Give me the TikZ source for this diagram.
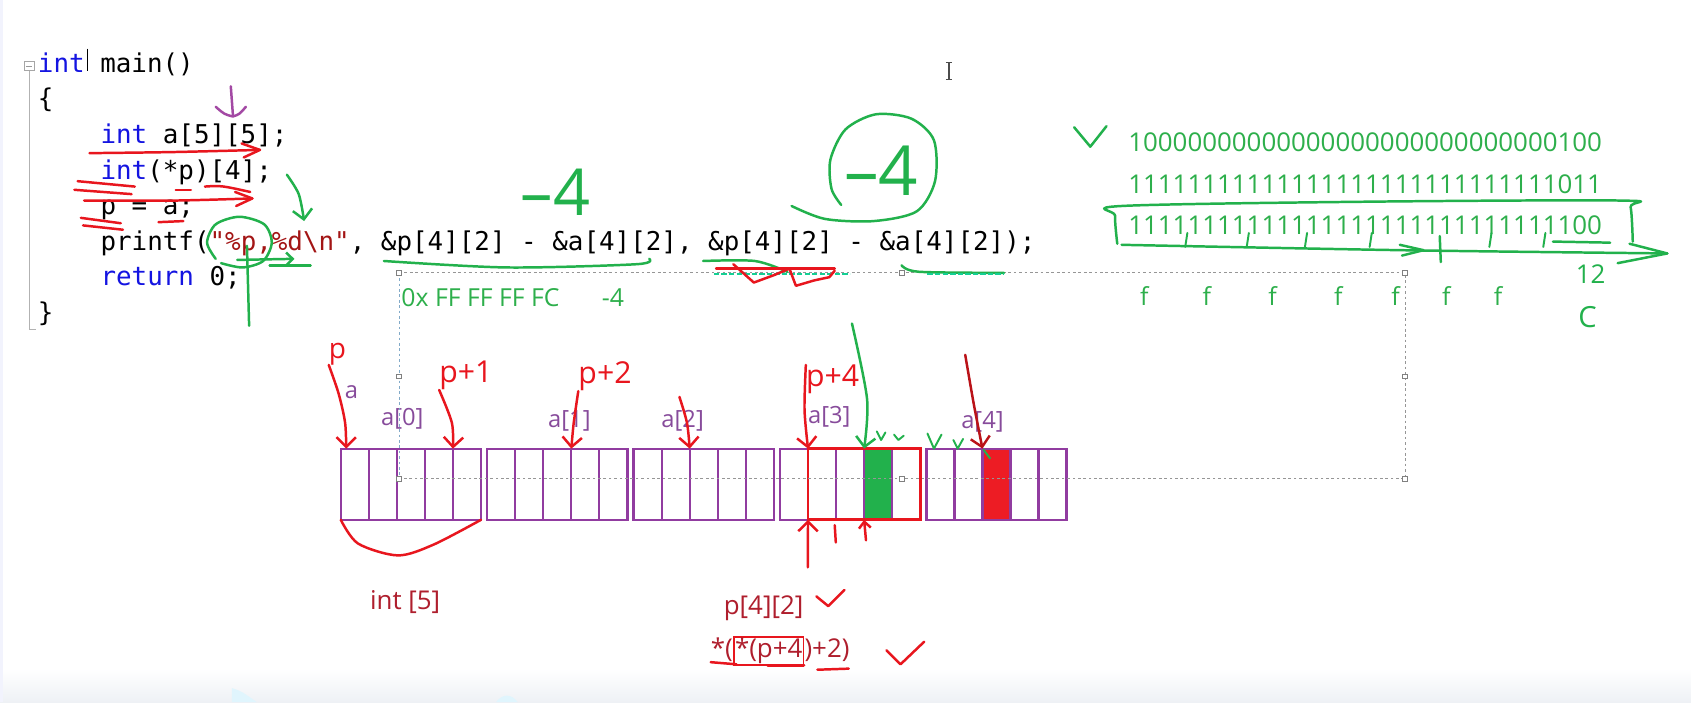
\documentclass[tikz,border=0pt]{standalone}
\usepackage{fontspec}
\setmonofont{DejaVu Sans Mono}
\newfontfamily\notefont{Open Sans}
\usetikzlibrary{positioning, arrows.meta}

\definecolor{kwblue}{RGB}{20,20,225}
\definecolor{strred}{RGB}{163,21,21}
\definecolor{penred}{RGB}{232,22,30}
\definecolor{pengreen}{RGB}{34,177,76}
\definecolor{penpurple}{RGB}{163,73,164}
\definecolor{mempurple}{RGB}{145,60,160}
\definecolor{labpurple}{RGB}{135,75,155}
\definecolor{notegreen}{RGB}{45,175,75}
\definecolor{notered}{RGB}{175,30,45}
\definecolor{selgray}{RGB}{150,150,150}
\definecolor{selblue}{RGB}{130,170,200}
\definecolor{bandgray}{RGB}{238,241,245}
\definecolor{cellred}{RGB}{237,28,36}

\newcommand{\kwd}[1]{\textcolor{kwblue}{#1}}

\tikzset{
  code/.style={font=\ttfamily\fontsize{24}{28}\selectfont, anchor=base west, inner sep=0pt},
  note/.style={font=\notefont\fontsize{23}{26}\selectfont, text=notegreen, anchor=base, inner sep=0pt},
  bits/.style={font=\notefont\fontsize{24}{28}\selectfont, text=notegreen, anchor=west, inner sep=0pt},
  memlabel/.style={font=\notefont\fontsize{22}{26}\selectfont, text=labpurple, inner sep=0pt},
  redtext/.style={font=\notefont\fontsize{24}{28}\selectfont, text=notered, inner sep=0pt, anchor=base west},
  hand/.style={font=\notefont\fontsize{28}{30}\selectfont, inner sep=0pt},
  cell/.style={draw=mempurple, line width=2.1pt, minimum width=26pt, minimum height=66pt, inner sep=0pt, outer sep=0pt},
  handle/.style={draw=gray, fill=white, line width=0.6pt, minimum size=4.5pt, inner sep=0pt},
  sel/.style={draw=selgray, line width=0.9pt, dash pattern=on 2.5pt off 2.5pt},
  pen/.style={line width=2.3pt, line cap=round, line join=round},
  redpen/.style={pen, draw=penred},
  greenpen/.style={pen, draw=pengreen},
  purplepen/.style={pen, draw=penpurple},
  tealdash/.style={draw=pengreen!60!cyan, line width=2pt, dash pattern=on 5pt off 2pt},
  barb/.style={-{Straight Barb[length=9pt,width=18pt]}},
}

\begin{document}
\begin{tikzpicture}[x=1pt, y=-1pt]
\useasboundingbox (0,0) rectangle (1568,651);
\fill[white] (0,0) rectangle (1568,651);
\shade[top color=white, bottom color=bandgray] (0,620) rectangle (1568,651);
\fill[bandgray!80!blue!20] (0,0) rectangle (3,651);
\fill[cyan!12] (215,651) -- (215,638) .. controls (224,641) .. (238,651) -- cycle;
\fill[cyan!12] (460,651) .. controls (466,643) and (474,643) .. (480,651) -- cycle;

% editor
\node[draw=gray!70, minimum size=9pt, inner sep=0pt] (fold) at (27,61) {};
\draw[gray!80] (24,61) -- (30,61);
\draw[gray!60, line width=0.8pt] (fold.south) -- (27,305) -- (33,305);
\node[code] (ln0) at (35,67) {\kwd{int} main()};
\node[code] (ln1) at (35,100) {\{};
\node[code] (ln2) at (93,133) {\kwd{int} a[5][5];};
\node[code] (ln3) at (93,166) {\kwd{int}(*p)[4];};
\node[code] (ln4) at (93,199) {p = a;};
\node[code] (ln5) at (93,232) {printf(\textcolor{strred}{"\%p,\%d\textbackslash n"}, \&p[4][2] - \&a[4][2], \&p[4][2] - \&a[4][2]);};
\node[code] (ln6) at (93,265) {\kwd{return} 0;};
\node[code] (ln7) at (35,298) {\}};
\draw[black, line width=0.9pt] (81,45) -- (81,66);
\draw[gray!60!black, line width=1.2pt] (880,58) -- (880,74) (877,58) -- (883,58) (877,74) -- (883,74);

% memory a[5][5]
\foreach \g in {0,...,4} {
  \foreach \c in {0,...,4} {
    \node[cell] (c\g\c) at ({329+\g*135.75+\c*26},449) {};
  }
}
\node[cell, fill=pengreen] at (c33) {};
\node[cell, fill=cellred] at (c42) {};
\draw[penred, line width=2.6pt] (c31.north west) rectangle (c34.south east);

\node[memlabel] (la) at (326,364) {a};
\node[memlabel] (a0) at (373,388) {a[0]};
\node[memlabel] (a1) at (528,390) {a[1]};
\node[memlabel] (a2) at (633,390) {a[2]};
\node[memlabel] (a3) at (769,386) {a[3]};
\node[memlabel] (a4) at (911,391) {a[4]};

% selection frame
\draw[sel] (370,253) -- (1303,253) -- (1303,444) -- (370,444);
\draw[sel, draw=selblue] (370,253) -- (370,444);
\foreach \hx/\hy [count=\i] in {370/253, 836/253, 1303/253, 370/349, 1303/349, 370/444, 836/444, 1303/444}
  \node[handle] (h\i) at (\hx,\hy) {};
\node[note, anchor=base west] (hex) at (372,284) {0x FF FF FF FC};
\node[note, anchor=base west] (res) at (558,284) {-4};
\foreach \fx [count=\i] in {1061,1119,1180,1241,1294,1341,1389}
  \node[note] (f\i) at (\fx,283) {f};

% bits of -4
\node[bits] (b1) at (1046,131.5) {10000000{}00000000{}00000000{}00000100};
\node[bits] (b2) at (1046,170.5) {11111111{}11111111{}11111111{}11111011};
\node[bits] (b3) at (1046,209) {11111111{}11111111{}11111111{}11111100};
\draw[greenpen] (996,118) -- (1011,136) -- (1026,117);
\draw[greenpen] plot[smooth] coordinates {(1036,226) (1034,200) (1040,191) (1270,187) (1505,186) (1512,192) (1514,224)};
\draw[greenpen] plot[smooth] coordinates {(1040,227) (1300,232) (1546,235)};
\draw[greenpen] (1511,226) -- (1546,235) -- (1500,244);
\foreach \tx in {1101,1158,1212,1272,1383,1433}
  \draw[greenpen, line width=1.8pt] (\tx,216) -- (\tx-2,229);
\draw[greenpen] (1298,227) -- (1320,232) -- (1300,237);
\draw[greenpen] (1335,219) -- (1336,243);
\draw[greenpen] (1440,224) -- (1493,225);
\node[hand, text=pengreen, font=\notefont\fontsize{24}{26}\selectfont] (t12) at (1475,254) {12};
\node[hand, text=pengreen, font=\notefont\fontsize{27}{28}\selectfont] (tc) at (1472,294) {C};

% marks on the code
\draw[purplepen] (214,80) -- (216,107);
\draw[purplepen] (200,99) .. controls (208,106) .. (216,108) .. controls (222,106) .. (228,99);
\draw[redpen] plot[smooth] coordinates {(83,142) (160,141) (241,139)};
\draw[redpen] (224,133) -- (241,139) -- (226,146);
\draw[redpen] (72,168) -- (125,173);
\draw[redpen] (69,176) -- (122,180);
\draw[redpen] plot[smooth] coordinates {(78,186) (160,186) (234,184)};
\draw[redpen] (218,178) -- (234,184) -- (219,191);
\draw[redpen] (163,176) -- (177,176);
\draw[redpen] (190,173) .. controls (205,172) .. (232,178);
\draw[redpen] (75,202) -- (112,207);
\draw[redpen] (77,209) -- (114,213);
\draw[redpen] (147,206) -- (170,205);
\draw[greenpen, barb] plot[smooth] coordinates {(266,162) (277,180) (282,205)};
\draw[greenpen] plot[smooth] coordinates {(200,240) (192,225) (200,208) (222,201) (245,208) (252,225) (244,242) (225,248) (205,244)};
\draw[greenpen, -{Straight Barb[length=6pt,width=12pt]}] (220,241) -- (273,240);
\draw[greenpen] (250,246) -- (288,246);
\draw[greenpen] (229,228) -- (231,302);
\draw[greenpen] plot[smooth] coordinates {(356,242) (470,248) (590,245) (602,240)};
\draw[greenpen] plot[smooth] coordinates {(652,242) (700,242) (730,252)};
\draw[tealdash] (662,254) -- (788,254);
\draw[redpen] (664,249) -- (774,249);
\draw[redpen] plot coordinates {(680,245) (699,262) (718,255) (732,249) (738,265) (755,260) (769,257) (774,251)};
\draw[greenpen] plot[smooth] coordinates {(836,246) (852,252) (931,253)};
\draw[tealdash] (860,254) -- (931,254);
\node[hand, text=pengreen, font=\notefont\fontsize{60}{60}\selectfont] (m1) at (515,178) {–4};
\node[hand, text=pengreen, font=\notefont\fontsize{64}{64}\selectfont] (m2) at (817,158) {–4};
\draw[greenpen] plot[smooth] coordinates {(734,191) (765,203) (810,205) (850,196) (867,168) (866,130) (845,110) (812,106) (784,120) (770,148) (771,175) (780,190)};

% pointers into the array
\node[hand, text=penred, font=\notefont\fontsize{26}{28}\selectfont] (lp) at (313,328) {p};
\node[hand, text=penred] (lp1) at (432,348) {p+1};
\node[hand, text=penred] (lp2) at (561,349) {p+2};
\node[hand, text=penred] (lp4) at (772,352) {p+4};
\coordinate (q3) at (630,368);
\coordinate (g0) at (790,300);
\coordinate (r0) at (895,329);
\draw[redpen, barb] plot[smooth] coordinates {(lp.south west) (314,365) (320,392) ([xshift=5pt]c00.north west)};
\draw[redpen, barb] plot[smooth] coordinates {(lp1.south west) (419,392) (c04.north west)};
\draw[redpen, barb] plot[smooth] coordinates {(lp2.south west) (532,392) (c13.north west)};
\draw[redpen, barb] plot[smooth] coordinates {(q3) (637,392) (c22.north west)};
\draw[redpen, barb] plot[smooth] coordinates {(lp4.north west) (746,380) (c31.north west)};
\draw[greenpen, barb] plot[smooth] coordinates {(g0) (804,370) (c33.north west)};
\draw[redpen, draw=penred!80!black, barb] plot[smooth] coordinates {(r0) (903,375) (c42.north west)};
\draw[greenpen, line width=1.8pt] (813,400) -- (817,408) -- (821,401);
\draw[greenpen, line width=1.8pt] (829,403) -- (833,408) -- (838,404);
\draw[greenpen, line width=1.8pt] (860,402) -- (866,416) -- (873,403);
\draw[greenpen, line width=1.8pt] (884,408) -- (888,416) -- (893,407);
\draw[greenpen, line width=1.8pt] (912,417) -- (918,425);
\draw[redpen, barb] (749,526) -- (c31.south west);
\draw[redpen] (774,487) -- (775,503);
\draw[redpen, -{Straight Barb[length=6pt,width=11pt]}] (803,501) -- (c33.south west);
\draw[redpen] plot[smooth] coordinates {(c00.south west) (332,504) (369,515) (402,505) (c04.south east)};

% notes below
\node[redtext] (t5) at (343,565) {int [5]};
\node[redtext] (pe) at (671,570) {p[4][2]};
\node[redtext] (e1) at (659,610) {*(};
\node[redtext, draw=penred, line width=1.6pt, inner sep=1pt] (e2) at (e1.base east) {*(p+4};
\node[redtext] (e3) at (e2.base east) {)+2)};
\draw[redpen] (757,553) -- (768,562) -- (783,547);
\draw[redpen] (822,603) -- (835,616) -- (857,595);
\draw[redpen] (659,614) -- (683,616);
\draw[redpen, line width=3.5pt] (712,617) -- (745,617);
\draw[redpen] (758,621) -- (787,620);
\end{tikzpicture}
\end{document}
